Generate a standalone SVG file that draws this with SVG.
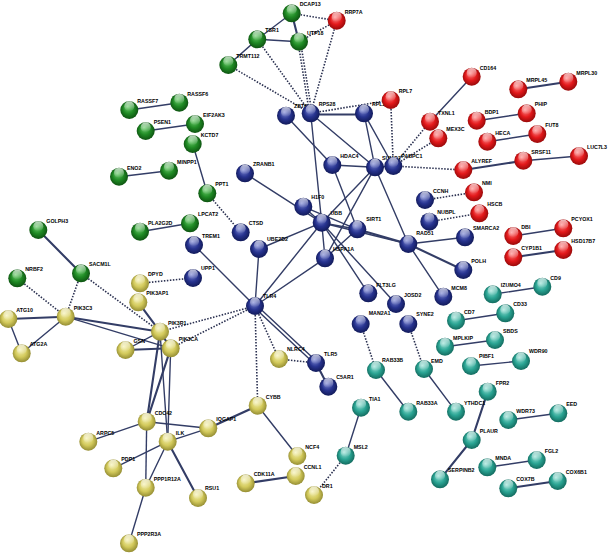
<svg xmlns="http://www.w3.org/2000/svg" width="610" height="555" viewBox="0 0 610 555">
<defs>
<radialGradient id="gG" cx="0.5" cy="0.5" r="0.55" fx="0.4" fy="0.3"><stop offset="0" stop-color="#6fcf6f"/><stop offset="0.55" stop-color="#1f8a24"/><stop offset="1" stop-color="#0b4a0e"/></radialGradient>
<radialGradient id="gB" cx="0.5" cy="0.5" r="0.55" fx="0.4" fy="0.3"><stop offset="0" stop-color="#7f8ad6"/><stop offset="0.55" stop-color="#27338f"/><stop offset="1" stop-color="#0e1650"/></radialGradient>
<radialGradient id="gR" cx="0.5" cy="0.5" r="0.55" fx="0.4" fy="0.3"><stop offset="0" stop-color="#ff8c8c"/><stop offset="0.55" stop-color="#e3191b"/><stop offset="1" stop-color="#8c0707"/></radialGradient>
<radialGradient id="gY" cx="0.5" cy="0.5" r="0.55" fx="0.4" fy="0.3"><stop offset="0" stop-color="#f6f2b4"/><stop offset="0.55" stop-color="#d3ca5c"/><stop offset="1" stop-color="#8a832c"/></radialGradient>
<radialGradient id="gT" cx="0.5" cy="0.5" r="0.55" fx="0.4" fy="0.3"><stop offset="0" stop-color="#9de3d8"/><stop offset="0.55" stop-color="#2aa493"/><stop offset="1" stop-color="#0f6156"/></radialGradient>
<linearGradient id="gl" x1="0" y1="0" x2="0" y2="1"><stop offset="0" stop-color="#fff" stop-opacity="0.75"/><stop offset="1" stop-color="#fff" stop-opacity="0"/></linearGradient>
</defs>
<style>
.e{stroke:#333d66;stroke-width:1.4;fill:none;stroke-linecap:round}
.w{stroke-width:2.1}
.d{stroke:#2a3050;stroke-width:1.6;stroke-dasharray:1.5 1.5;fill:none}
.n circle{stroke:none}
.G circle.b{fill:url(#gG)}
.B circle.b{fill:url(#gB)}
.R circle.b{fill:url(#gR)}
.Y circle.b{fill:url(#gY)}
.T circle.b{fill:url(#gT)}
circle.h{fill:url(#gl)}
text{font-family:"Liberation Sans",Arial,sans-serif;font-size:5.3px;font-weight:bold;fill:#000}
</style>
<g id="connectors">
<line class="d" x1="291.7" y1="13.3" x2="336.7" y2="20.7"/>
<line class="e" x1="291.7" y1="13.3" x2="257.3" y2="39.3"/>
<line class="e w" x1="291.7" y1="13.3" x2="299" y2="41.7"/>
<line class="e" x1="257.3" y1="39.3" x2="299" y2="41.7"/>
<line class="e" x1="257.3" y1="39.3" x2="228.3" y2="65"/>
<line class="d" x1="299" y1="41.7" x2="336.7" y2="20.7"/>
<line class="d" x1="336.7" y1="20.7" x2="310.7" y2="113.3"/>
<line class="d" x1="298" y1="41.7" x2="309.5" y2="113.3"/>
<line class="d" x1="300.5" y1="41.7" x2="312" y2="113.3"/>
<line class="d" x1="257.3" y1="39.3" x2="310.7" y2="113.3"/>
<line class="d" x1="228.3" y1="65" x2="310.7" y2="113.3"/>
<line class="d" x1="310.7" y1="113.3" x2="390.7" y2="100"/>
<line class="e w" x1="310.7" y1="114.5" x2="364" y2="114.5"/>
<line class="d" x1="390.7" y1="100" x2="393.3" y2="166"/>
<line class="e" x1="364" y1="113.3" x2="375" y2="167.3"/>
<line class="e" x1="364" y1="113.3" x2="393.3" y2="166"/>
<line class="e" x1="310.7" y1="113.3" x2="375" y2="167.3"/>
<line class="e" x1="286" y1="115.7" x2="332.3" y2="165"/>
<line class="e" x1="310.7" y1="113.3" x2="321.7" y2="222.7"/>
<line class="e" x1="332.3" y1="165" x2="375" y2="167.3"/>
<line class="e" x1="332.3" y1="165" x2="357.3" y2="229.3"/>
<line class="e" x1="375" y1="167.3" x2="393.3" y2="166"/>
<line class="e" x1="375" y1="167.3" x2="321.7" y2="222.7"/>
<line class="e" x1="375" y1="167.3" x2="325" y2="258.3"/>
<line class="e" x1="375" y1="167.3" x2="408.3" y2="244"/>
<line class="d" x1="393.3" y1="166" x2="430" y2="121.7"/>
<line class="d" x1="393.3" y1="166" x2="438.3" y2="138.3"/>
<line class="d" x1="393.3" y1="166" x2="463.3" y2="170"/>
<line class="e" x1="430" y1="121.7" x2="471.7" y2="76.7"/>
<line class="e w" x1="518.3" y1="89.3" x2="568.3" y2="81.7"/>
<line class="e" x1="476.7" y1="120.7" x2="526.7" y2="113.3"/>
<line class="e" x1="487.3" y1="141.7" x2="537.3" y2="134"/>
<line class="e w" x1="463.3" y1="170" x2="523.3" y2="160.7"/>
<line class="e" x1="523.3" y1="160.7" x2="579" y2="156"/>
<line class="d" x1="425" y1="200" x2="474" y2="192.3"/>
<line class="d" x1="429.3" y1="221.7" x2="479.3" y2="213.3"/>
<line class="e" x1="513.3" y1="236" x2="563.3" y2="228.3"/>
<line class="e w" x1="513.3" y1="257.3" x2="563.3" y2="250"/>
<line class="e" x1="245" y1="173.3" x2="321.7" y2="222.7"/>
<line class="e" x1="303.3" y1="206.7" x2="321.7" y2="222.7"/>
<line class="e" x1="303.3" y1="206.7" x2="357.3" y2="229.3"/>
<line class="e" x1="321.7" y1="222.7" x2="357.3" y2="229.3"/>
<line class="e" x1="321.7" y1="222.7" x2="325" y2="258.3"/>
<line class="e" x1="321.7" y1="222.7" x2="408.3" y2="244"/>
<line class="e w" x1="357.3" y1="229.3" x2="408.3" y2="244"/>
<line class="e" x1="325" y1="258.3" x2="357.3" y2="229.3"/>
<line class="e" x1="321.7" y1="222.7" x2="368.3" y2="293.3"/>
<line class="e" x1="321.7" y1="222.7" x2="396" y2="304"/>
<line class="e" x1="321.7" y1="222.7" x2="259" y2="249"/>
<line class="e" x1="321.7" y1="222.7" x2="255" y2="306"/>
<line class="e" x1="325" y1="258.3" x2="255" y2="306"/>
<line class="e" x1="259" y1="249" x2="255" y2="306"/>
<line class="e" x1="194" y1="245" x2="255" y2="306"/>
<line class="e" x1="408.3" y1="244" x2="465" y2="237.3"/>
<line class="e w" x1="408.3" y1="244" x2="463.3" y2="270"/>
<line class="e" x1="408.3" y1="244" x2="443.3" y2="296.7"/>
<line class="d" x1="360.7" y1="324" x2="376" y2="370"/>
<line class="d" x1="408.3" y1="324" x2="424" y2="369"/>
<line class="e" x1="424" y1="369" x2="456" y2="411.7"/>
<line class="e" x1="376" y1="370" x2="408.3" y2="411.7"/>
<line class="e w" x1="487.7" y1="391.7" x2="471.7" y2="440"/>
<line class="e w" x1="471.7" y1="440" x2="440" y2="479.3"/>
<line class="e" x1="508.3" y1="420" x2="558.3" y2="413.3"/>
<line class="e" x1="487.3" y1="467.3" x2="536.7" y2="460"/>
<line class="e w" x1="508.3" y1="488.3" x2="557.7" y2="481"/>
<line class="e" x1="492.7" y1="294.3" x2="542.3" y2="286.7"/>
<line class="e" x1="456" y1="320.7" x2="505.3" y2="313.3"/>
<line class="e" x1="445" y1="346.7" x2="495" y2="340"/>
<line class="e" x1="471" y1="366" x2="521" y2="361"/>
<line class="e" x1="361" y1="407.7" x2="345.7" y2="455.7"/>
<line class="d" x1="345.7" y1="455.7" x2="314" y2="495"/>
<line class="e w" x1="245.7" y1="483.3" x2="295.7" y2="476"/>
<line class="e" x1="257.7" y1="405.7" x2="297.3" y2="456"/>
<line class="e w" x1="257.7" y1="405.7" x2="208.3" y2="428.3"/>
<line class="d" x1="255" y1="306" x2="257.7" y2="405.7"/>
<line class="d" x1="255" y1="306" x2="279" y2="359"/>
<line class="d" x1="279" y1="359" x2="316" y2="363"/>
<line class="e" x1="256" y1="304.8" x2="317" y2="361.8"/>
<line class="e" x1="254" y1="307.2" x2="315" y2="364.2"/>
<line class="e w" x1="316" y1="363" x2="328.3" y2="386.7"/>
<line class="d" x1="255" y1="306" x2="160" y2="331.7"/>
<line class="d" x1="255" y1="306" x2="170.7" y2="348.3"/>
<line class="d" x1="140" y1="283.3" x2="193" y2="278"/>
<line class="e w" x1="138.3" y1="302.3" x2="160" y2="331.7"/>
<line class="d" x1="81" y1="273.3" x2="65.7" y2="316.7"/>
<line class="d" x1="81" y1="273.3" x2="160" y2="331.7"/>
<line class="e w" x1="38.3" y1="230" x2="81" y2="273.3"/>
<line class="d" x1="17.3" y1="278.3" x2="65.7" y2="316.7"/>
<line class="e w" x1="8.3" y1="319" x2="65.7" y2="316.7"/>
<line class="e" x1="8.3" y1="319" x2="21.7" y2="353.3"/>
<line class="e" x1="21.7" y1="353.3" x2="65.7" y2="316.7"/>
<line class="e w" x1="65.7" y1="316.7" x2="160" y2="331.7"/>
<line class="e" x1="65.7" y1="316.7" x2="170.7" y2="348.3"/>
<line class="e" x1="125.5" y1="350" x2="160" y2="331.7"/>
<line class="e w" x1="125.5" y1="350" x2="170.7" y2="348.3"/>
<line class="e w" x1="160" y1="331.7" x2="170.7" y2="348.3"/>
<line class="e w" x1="160" y1="331.7" x2="146.7" y2="421.7"/>
<line class="e w" x1="170.7" y1="348.3" x2="146.7" y2="421.7"/>
<line class="e" x1="160" y1="331.7" x2="167.7" y2="441.7"/>
<line class="e" x1="170.7" y1="348.3" x2="167.7" y2="441.7"/>
<line class="e" x1="146.7" y1="421.7" x2="88.3" y2="441.7"/>
<line class="e" x1="146.7" y1="421.7" x2="208.3" y2="428.3"/>
<line class="e" x1="146.7" y1="421.7" x2="145.7" y2="487.7"/>
<line class="e" x1="167.7" y1="441.7" x2="208.3" y2="428.3"/>
<line class="e" x1="167.7" y1="441.7" x2="113.3" y2="468.3"/>
<line class="e" x1="167.7" y1="441.7" x2="145.7" y2="487.7"/>
<line class="e w" x1="167.7" y1="441.7" x2="198" y2="498"/>
<line class="e" x1="145.7" y1="487.7" x2="129" y2="543.3"/>
<line class="d" x1="207.3" y1="193.3" x2="240.7" y2="232.3"/>
<line class="e" x1="192.7" y1="144" x2="207.3" y2="193.3"/>
<line class="e" x1="140" y1="231.7" x2="190" y2="223.3"/>
<line class="e" x1="129.3" y1="110" x2="179.3" y2="102.7"/>
<line class="e" x1="145.7" y1="131" x2="195" y2="124"/>
<line class="e" x1="119" y1="176.7" x2="169" y2="170.7"/>
</g>
<g id="n-DCAP13" class="n G"><circle class="b" cx="291.7" cy="13.3" r="9"/><circle class="h" cx="291.7" cy="9.5" r="5"/><text x="299.7" y="6.3">DCAP13</text></g>
<g id="n-TSR1" class="n G"><circle class="b" cx="257.3" cy="39.3" r="9"/><circle class="h" cx="257.3" cy="35.5" r="5"/><text x="265.3" y="32.3">TSR1</text></g>
<g id="n-UTP18" class="n G"><circle class="b" cx="299" cy="41.7" r="9"/><circle class="h" cx="299" cy="37.9" r="5"/><text x="307" y="34.7">UTP18</text></g>
<g id="n-TRMT112" class="n G"><circle class="b" cx="228.3" cy="65" r="9"/><circle class="h" cx="228.3" cy="61.2" r="5"/><text x="236.3" y="58">TRMT112</text></g>
<g id="n-RASSF7" class="n G"><circle class="b" cx="129.3" cy="110" r="9"/><circle class="h" cx="129.3" cy="106.2" r="5"/><text x="137.3" y="103">RASSF7</text></g>
<g id="n-RASSF6" class="n G"><circle class="b" cx="179.3" cy="102.7" r="9"/><circle class="h" cx="179.3" cy="98.9" r="5"/><text x="187.3" y="95.7">RASSF6</text></g>
<g id="n-PSEN1" class="n G"><circle class="b" cx="145.7" cy="131" r="9"/><circle class="h" cx="145.7" cy="127.2" r="5"/><text x="153.7" y="124">PSEN1</text></g>
<g id="n-EIF2AK3" class="n G"><circle class="b" cx="195" cy="124" r="9"/><circle class="h" cx="195" cy="120.2" r="5"/><text x="203" y="117">EIF2AK3</text></g>
<g id="n-KCTD7" class="n G"><circle class="b" cx="192.7" cy="144" r="9"/><circle class="h" cx="192.7" cy="140.2" r="5"/><text x="200.7" y="137">KCTD7</text></g>
<g id="n-ENO2" class="n G"><circle class="b" cx="119" cy="176.7" r="9"/><circle class="h" cx="119" cy="172.9" r="5"/><text x="127" y="169.7">ENO2</text></g>
<g id="n-MINPP1" class="n G"><circle class="b" cx="169" cy="170.7" r="9"/><circle class="h" cx="169" cy="166.9" r="5"/><text x="177" y="163.7">MINPP1</text></g>
<g id="n-PPT1" class="n G"><circle class="b" cx="207.3" cy="193.3" r="9"/><circle class="h" cx="207.3" cy="189.5" r="5"/><text x="215.3" y="186.3">PPT1</text></g>
<g id="n-LPCAT2" class="n G"><circle class="b" cx="190" cy="223.3" r="9"/><circle class="h" cx="190" cy="219.5" r="5"/><text x="198" y="216.3">LPCAT2</text></g>
<g id="n-PLA2G2D" class="n G"><circle class="b" cx="140" cy="231.7" r="9"/><circle class="h" cx="140" cy="227.9" r="5"/><text x="148" y="224.7">PLA2G2D</text></g>
<g id="n-GOLPH3" class="n G"><circle class="b" cx="38.3" cy="230" r="9"/><circle class="h" cx="38.3" cy="226.2" r="5"/><text x="46.3" y="223">GOLPH3</text></g>
<g id="n-SACM1L" class="n G"><circle class="b" cx="81" cy="273.3" r="9"/><circle class="h" cx="81" cy="269.5" r="5"/><text x="89" y="266.3">SACM1L</text></g>
<g id="n-NRBF2" class="n G"><circle class="b" cx="17.3" cy="278.3" r="9"/><circle class="h" cx="17.3" cy="274.5" r="5"/><text x="25.3" y="271.3">NRBF2</text></g>
<g id="n-RRP7A" class="n R"><circle class="b" cx="336.7" cy="20.7" r="9"/><circle class="h" cx="336.7" cy="16.9" r="5"/><text x="344.7" y="13.7">RRP7A</text></g>
<g id="n-CD164" class="n R"><circle class="b" cx="471.7" cy="76.7" r="9"/><circle class="h" cx="471.7" cy="72.9" r="5"/><text x="479.7" y="69.7">CD164</text></g>
<g id="n-MRPL45" class="n R"><circle class="b" cx="518.3" cy="89.3" r="9"/><circle class="h" cx="518.3" cy="85.5" r="5"/><text x="526.3" y="82.3">MRPL45</text></g>
<g id="n-MRPL30" class="n R"><circle class="b" cx="568.3" cy="81.7" r="9"/><circle class="h" cx="568.3" cy="77.9" r="5"/><text x="576.3" y="74.7">MRPL30</text></g>
<g id="n-TXNL1" class="n R"><circle class="b" cx="430" cy="121.7" r="9"/><circle class="h" cx="430" cy="117.9" r="5"/><text x="438" y="114.7">TXNL1</text></g>
<g id="n-MEX3C" class="n R"><circle class="b" cx="438.3" cy="138.3" r="9"/><circle class="h" cx="438.3" cy="134.5" r="5"/><text x="446.3" y="131.3">MEX3C</text></g>
<g id="n-BDP1" class="n R"><circle class="b" cx="476.7" cy="120.7" r="9"/><circle class="h" cx="476.7" cy="116.9" r="5"/><text x="484.7" y="113.7">BDP1</text></g>
<g id="n-PHIP" class="n R"><circle class="b" cx="526.7" cy="113.3" r="9"/><circle class="h" cx="526.7" cy="109.5" r="5"/><text x="534.7" y="106.3">PHIP</text></g>
<g id="n-HECA" class="n R"><circle class="b" cx="487.3" cy="141.7" r="9"/><circle class="h" cx="487.3" cy="137.9" r="5"/><text x="495.3" y="134.7">HECA</text></g>
<g id="n-FUT8" class="n R"><circle class="b" cx="537.3" cy="134" r="9"/><circle class="h" cx="537.3" cy="130.2" r="5"/><text x="545.3" y="127">FUT8</text></g>
<g id="n-ALYREF" class="n R"><circle class="b" cx="463.3" cy="170" r="9"/><circle class="h" cx="463.3" cy="166.2" r="5"/><text x="471.3" y="163">ALYREF</text></g>
<g id="n-SRSF11" class="n R"><circle class="b" cx="523.3" cy="160.7" r="9"/><circle class="h" cx="523.3" cy="156.9" r="5"/><text x="531.3" y="153.7">SRSF11</text></g>
<g id="n-LUC7L3" class="n R"><circle class="b" cx="579" cy="156" r="9"/><circle class="h" cx="579" cy="152.2" r="5"/><text x="587" y="149">LUC7L3</text></g>
<g id="n-NMI" class="n R"><circle class="b" cx="474" cy="192.3" r="9"/><circle class="h" cx="474" cy="188.5" r="5"/><text x="482" y="185.3">NMI</text></g>
<g id="n-HSCB" class="n R"><circle class="b" cx="479.3" cy="213.3" r="9"/><circle class="h" cx="479.3" cy="209.5" r="5"/><text x="487.3" y="206.3">HSCB</text></g>
<g id="n-DBI" class="n R"><circle class="b" cx="513.3" cy="236" r="9"/><circle class="h" cx="513.3" cy="232.2" r="5"/><text x="521.3" y="229">DBI</text></g>
<g id="n-PCYOX1" class="n R"><circle class="b" cx="563.3" cy="228.3" r="9"/><circle class="h" cx="563.3" cy="224.5" r="5"/><text x="571.3" y="221.3">PCYOX1</text></g>
<g id="n-CYP1B1" class="n R"><circle class="b" cx="513.3" cy="257.3" r="9"/><circle class="h" cx="513.3" cy="253.5" r="5"/><text x="521.3" y="250.3">CYP1B1</text></g>
<g id="n-HSD17B7" class="n R"><circle class="b" cx="563.3" cy="250" r="9"/><circle class="h" cx="563.3" cy="246.2" r="5"/><text x="571.3" y="243">HSD17B7</text></g>
<g id="n-ZBTB" class="n B"><circle class="b" cx="286" cy="115.7" r="9"/><circle class="h" cx="286" cy="111.9" r="5"/><text x="294" y="108.2">ZBTB</text></g>
<g id="n-RPS28" class="n B"><circle class="b" cx="310.7" cy="113.3" r="9"/><circle class="h" cx="310.7" cy="109.5" r="5"/><text x="318.7" y="106.3">RPS28</text></g>
<g id="n-RPL21" class="n B"><circle class="b" cx="364" cy="113.3" r="9"/><circle class="h" cx="364" cy="109.5" r="5"/><text x="372" y="106.3">RPL21</text></g>
<g id="n-RPL7" class="n R"><circle class="b" cx="390.7" cy="100" r="9"/><circle class="h" cx="390.7" cy="96.2" r="5"/><text x="398.7" y="93">RPL7</text></g>
<g id="n-HDAC4" class="n B"><circle class="b" cx="332.3" cy="165" r="9"/><circle class="h" cx="332.3" cy="161.2" r="5"/><text x="340.3" y="158">HDAC4</text></g>
<g id="n-SUMO2" class="n B"><circle class="b" cx="375" cy="167.3" r="9"/><circle class="h" cx="375" cy="163.5" r="5"/><text x="382" y="159.5">SUMO2</text></g>
<g id="n-PABPC1" class="n B"><circle class="b" cx="393.3" cy="166" r="9"/><circle class="h" cx="393.3" cy="162.2" r="5"/><text x="401.3" y="158">PABPC1</text></g>
<g id="n-ZRANB1" class="n B"><circle class="b" cx="245" cy="173.3" r="9"/><circle class="h" cx="245" cy="169.5" r="5"/><text x="253" y="166.3">ZRANB1</text></g>
<g id="n-H1F0" class="n B"><circle class="b" cx="303.3" cy="206.7" r="9"/><circle class="h" cx="303.3" cy="202.9" r="5"/><text x="311.3" y="198.7">H1F0</text></g>
<g id="n-UBB" class="n B"><circle class="b" cx="321.7" cy="222.7" r="9"/><circle class="h" cx="321.7" cy="218.9" r="5"/><text x="330.5" y="214.7">UBB</text></g>
<g id="n-SIRT1" class="n B"><circle class="b" cx="357.3" cy="229.3" r="9"/><circle class="h" cx="357.3" cy="225.5" r="5"/><text x="366.3" y="221.3">SIRT1</text></g>
<g id="n-HSPA1A" class="n B"><circle class="b" cx="325" cy="258.3" r="9"/><circle class="h" cx="325" cy="254.5" r="5"/><text x="333" y="251">HSPA1A</text></g>
<g id="n-RAD51" class="n B"><circle class="b" cx="408.3" cy="244" r="9"/><circle class="h" cx="408.3" cy="240.2" r="5"/><text x="416.3" y="235">RAD51</text></g>
<g id="n-FLT3LG" class="n B"><circle class="b" cx="368.3" cy="293.3" r="9"/><circle class="h" cx="368.3" cy="289.5" r="5"/><text x="376.3" y="287">FLT3LG</text></g>
<g id="n-JOSD2" class="n B"><circle class="b" cx="396" cy="304" r="9"/><circle class="h" cx="396" cy="300.2" r="5"/><text x="404" y="297">JOSD2</text></g>
<g id="n-MCM8" class="n B"><circle class="b" cx="443.3" cy="296.7" r="9"/><circle class="h" cx="443.3" cy="292.9" r="5"/><text x="451.3" y="289.5">MCM8</text></g>
<g id="n-POLH" class="n B"><circle class="b" cx="463.3" cy="270" r="9"/><circle class="h" cx="463.3" cy="266.2" r="5"/><text x="471.3" y="263">POLH</text></g>
<g id="n-SMARCA2" class="n B"><circle class="b" cx="465" cy="237.3" r="9"/><circle class="h" cx="465" cy="233.5" r="5"/><text x="473" y="230">SMARCA2</text></g>
<g id="n-CCNH" class="n B"><circle class="b" cx="425" cy="200" r="9"/><circle class="h" cx="425" cy="196.2" r="5"/><text x="433" y="192.5">CCNH</text></g>
<g id="n-NUBPL" class="n B"><circle class="b" cx="429.3" cy="221.7" r="9"/><circle class="h" cx="429.3" cy="217.9" r="5"/><text x="437.3" y="213.7">NUBPL</text></g>
<g id="n-SYNE2" class="n B"><circle class="b" cx="408.3" cy="324" r="9"/><circle class="h" cx="408.3" cy="320.2" r="5"/><text x="416.3" y="316.3">SYNE2</text></g>
<g id="n-MAN2A1" class="n B"><circle class="b" cx="360.7" cy="324" r="9"/><circle class="h" cx="360.7" cy="320.2" r="5"/><text x="368.7" y="315.3">MAN2A1</text></g>
<g id="n-CTSD" class="n B"><circle class="b" cx="240.7" cy="232.3" r="9"/><circle class="h" cx="240.7" cy="228.5" r="5"/><text x="248.7" y="224.7">CTSD</text></g>
<g id="n-UBE2D2" class="n B"><circle class="b" cx="259" cy="249" r="9"/><circle class="h" cx="259" cy="245.2" r="5"/><text x="267" y="241.3">UBE2D2</text></g>
<g id="n-TREM1" class="n B"><circle class="b" cx="194" cy="245" r="9"/><circle class="h" cx="194" cy="241.2" r="5"/><text x="202" y="238">TREM1</text></g>
<g id="n-UPP1" class="n B"><circle class="b" cx="193" cy="278" r="9"/><circle class="h" cx="193" cy="274.2" r="5"/><text x="201" y="269.5">UPP1</text></g>
<g id="n-TLR4" class="n B"><circle class="b" cx="255" cy="306" r="9"/><circle class="h" cx="255" cy="302.2" r="5"/><text x="263" y="298">TLR4</text></g>
<g id="n-TLR5" class="n B"><circle class="b" cx="316" cy="363" r="9"/><circle class="h" cx="316" cy="359.2" r="5"/><text x="324" y="356">TLR5</text></g>
<g id="n-C5AR1" class="n B"><circle class="b" cx="328.3" cy="386.7" r="9"/><circle class="h" cx="328.3" cy="382.9" r="5"/><text x="336.3" y="379">C5AR1</text></g>
<g id="n-DPYD" class="n Y"><circle class="b" cx="140" cy="283.3" r="9"/><circle class="h" cx="140" cy="279.5" r="5"/><text x="148" y="276.3">DPYD</text></g>
<g id="n-PIK3AP1" class="n Y"><circle class="b" cx="138.3" cy="302.3" r="9"/><circle class="h" cx="138.3" cy="298.5" r="5"/><text x="146.3" y="295.3">PIK3AP1</text></g>
<g id="n-PIK3C3" class="n Y"><circle class="b" cx="65.7" cy="316.7" r="9"/><circle class="h" cx="65.7" cy="312.9" r="5"/><text x="73.7" y="309.7">PIK3C3</text></g>
<g id="n-ATG10" class="n Y"><circle class="b" cx="8.3" cy="319" r="9"/><circle class="h" cx="8.3" cy="315.2" r="5"/><text x="16.3" y="312">ATG10</text></g>
<g id="n-ATG2A" class="n Y"><circle class="b" cx="21.7" cy="353.3" r="9"/><circle class="h" cx="21.7" cy="349.5" r="5"/><text x="29.7" y="346.3">ATG2A</text></g>
<g id="n-PIK3R1" class="n Y"><circle class="b" cx="160" cy="331.7" r="9"/><circle class="h" cx="160" cy="327.9" r="5"/><text x="168" y="324.7">PIK3R1</text></g>
<g id="n-GSN" class="n Y"><circle class="b" cx="125.5" cy="350" r="9"/><circle class="h" cx="125.5" cy="346.2" r="5"/><text x="133.5" y="342.5">GSN</text></g>
<g id="n-PIK3CA" class="n Y"><circle class="b" cx="170.7" cy="348.3" r="9"/><circle class="h" cx="170.7" cy="344.5" r="5"/><text x="178.7" y="341.3">PIK3CA</text></g>
<g id="n-CDC42" class="n Y"><circle class="b" cx="146.7" cy="421.7" r="9"/><circle class="h" cx="146.7" cy="417.9" r="5"/><text x="154.7" y="414.7">CDC42</text></g>
<g id="n-ILK" class="n Y"><circle class="b" cx="167.7" cy="441.7" r="9"/><circle class="h" cx="167.7" cy="437.9" r="5"/><text x="175.7" y="434.7">ILK</text></g>
<g id="n-ARPC5" class="n Y"><circle class="b" cx="88.3" cy="441.7" r="9"/><circle class="h" cx="88.3" cy="437.9" r="5"/><text x="96.3" y="434.7">ARPC5</text></g>
<g id="n-PDP1" class="n Y"><circle class="b" cx="113.3" cy="468.3" r="9"/><circle class="h" cx="113.3" cy="464.5" r="5"/><text x="121.3" y="461.3">PDP1</text></g>
<g id="n-PPP1R12A" class="n Y"><circle class="b" cx="145.7" cy="487.7" r="9"/><circle class="h" cx="145.7" cy="483.9" r="5"/><text x="153.7" y="480.7">PPP1R12A</text></g>
<g id="n-RSU1" class="n Y"><circle class="b" cx="198" cy="498" r="9"/><circle class="h" cx="198" cy="494.2" r="5"/><text x="205" y="490">RSU1</text></g>
<g id="n-PPP2R3A" class="n Y"><circle class="b" cx="129" cy="543.3" r="9"/><circle class="h" cx="129" cy="539.5" r="5"/><text x="137" y="536.3">PPP2R3A</text></g>
<g id="n-IQGAP1" class="n Y"><circle class="b" cx="208.3" cy="428.3" r="9"/><circle class="h" cx="208.3" cy="424.5" r="5"/><text x="216.3" y="420.5">IQGAP1</text></g>
<g id="n-CYBB" class="n Y"><circle class="b" cx="257.7" cy="405.7" r="9"/><circle class="h" cx="257.7" cy="401.9" r="5"/><text x="265.7" y="398.7">CYBB</text></g>
<g id="n-NCF4" class="n Y"><circle class="b" cx="297.3" cy="456" r="9"/><circle class="h" cx="297.3" cy="452.2" r="5"/><text x="305.3" y="449">NCF4</text></g>
<g id="n-CCNL1" class="n Y"><circle class="b" cx="295.7" cy="476" r="9"/><circle class="h" cx="295.7" cy="472.2" r="5"/><text x="303.7" y="469">CCNL1</text></g>
<g id="n-CDK11A" class="n Y"><circle class="b" cx="245.7" cy="483.3" r="9"/><circle class="h" cx="245.7" cy="479.5" r="5"/><text x="253.7" y="476.3">CDK11A</text></g>
<g id="n-DR1" class="n Y"><circle class="b" cx="314" cy="495" r="9"/><circle class="h" cx="314" cy="491.2" r="5"/><text x="322" y="488">DR1</text></g>
<g id="n-NLRC4" class="n Y"><circle class="b" cx="279" cy="359" r="9"/><circle class="h" cx="279" cy="355.2" r="5"/><text x="287" y="351">NLRC4</text></g>
<g id="n-MSL2" class="n T"><circle class="b" cx="345.7" cy="455.7" r="9"/><circle class="h" cx="345.7" cy="451.9" r="5"/><text x="353.7" y="448.7">MSL2</text></g>
<g id="n-TIA1" class="n T"><circle class="b" cx="361" cy="407.7" r="9"/><circle class="h" cx="361" cy="403.9" r="5"/><text x="369" y="400.7">TIA1</text></g>
<g id="n-RAB33B" class="n T"><circle class="b" cx="376" cy="370" r="9"/><circle class="h" cx="376" cy="366.2" r="5"/><text x="382" y="361.5">RAB33B</text></g>
<g id="n-RAB33A" class="n T"><circle class="b" cx="408.3" cy="411.7" r="9"/><circle class="h" cx="408.3" cy="407.9" r="5"/><text x="416.3" y="404.7">RAB33A</text></g>
<g id="n-EMD" class="n T"><circle class="b" cx="424" cy="369" r="9"/><circle class="h" cx="424" cy="365.2" r="5"/><text x="431" y="363">EMD</text></g>
<g id="n-YTHDC1" class="n T"><circle class="b" cx="456" cy="411.7" r="9"/><circle class="h" cx="456" cy="407.9" r="5"/><text x="464" y="404.7">YTHDC1</text></g>
<g id="n-FPR2" class="n T"><circle class="b" cx="487.7" cy="391.7" r="9"/><circle class="h" cx="487.7" cy="387.9" r="5"/><text x="495.7" y="384.7">FPR2</text></g>
<g id="n-PLAUR" class="n T"><circle class="b" cx="471.7" cy="440" r="9"/><circle class="h" cx="471.7" cy="436.2" r="5"/><text x="479.7" y="433">PLAUR</text></g>
<g id="n-SERPINB2" class="n T"><circle class="b" cx="440" cy="479.3" r="9"/><circle class="h" cx="440" cy="475.5" r="5"/><text x="448" y="472.3">SERPINB2</text></g>
<g id="n-WDR73" class="n T"><circle class="b" cx="508.3" cy="420" r="9"/><circle class="h" cx="508.3" cy="416.2" r="5"/><text x="516.3" y="413">WDR73</text></g>
<g id="n-EED" class="n T"><circle class="b" cx="558.3" cy="413.3" r="9"/><circle class="h" cx="558.3" cy="409.5" r="5"/><text x="566.3" y="406.3">EED</text></g>
<g id="n-MNDA" class="n T"><circle class="b" cx="487.3" cy="467.3" r="9"/><circle class="h" cx="487.3" cy="463.5" r="5"/><text x="495.3" y="460.3">MNDA</text></g>
<g id="n-FGL2" class="n T"><circle class="b" cx="536.7" cy="460" r="9"/><circle class="h" cx="536.7" cy="456.2" r="5"/><text x="544.7" y="453">FGL2</text></g>
<g id="n-COX7B" class="n T"><circle class="b" cx="508.3" cy="488.3" r="9"/><circle class="h" cx="508.3" cy="484.5" r="5"/><text x="516.3" y="481.3">COX7B</text></g>
<g id="n-COX6B1" class="n T"><circle class="b" cx="557.7" cy="481" r="9"/><circle class="h" cx="557.7" cy="477.2" r="5"/><text x="565.7" y="474">COX6B1</text></g>
<g id="n-IZUMO4" class="n T"><circle class="b" cx="492.7" cy="294.3" r="9"/><circle class="h" cx="492.7" cy="290.5" r="5"/><text x="500.7" y="287.3">IZUMO4</text></g>
<g id="n-CD9" class="n T"><circle class="b" cx="542.3" cy="286.7" r="9"/><circle class="h" cx="542.3" cy="282.9" r="5"/><text x="550.3" y="279.7">CD9</text></g>
<g id="n-CD7" class="n T"><circle class="b" cx="456" cy="320.7" r="9"/><circle class="h" cx="456" cy="316.9" r="5"/><text x="464" y="313.7">CD7</text></g>
<g id="n-CD33" class="n T"><circle class="b" cx="505.3" cy="313.3" r="9"/><circle class="h" cx="505.3" cy="309.5" r="5"/><text x="513.3" y="306.3">CD33</text></g>
<g id="n-MPLKIP" class="n T"><circle class="b" cx="445" cy="346.7" r="9"/><circle class="h" cx="445" cy="342.9" r="5"/><text x="453" y="339.7">MPLKIP</text></g>
<g id="n-SBDS" class="n T"><circle class="b" cx="495" cy="340" r="9"/><circle class="h" cx="495" cy="336.2" r="5"/><text x="503" y="333">SBDS</text></g>
<g id="n-PIBF1" class="n T"><circle class="b" cx="471" cy="366" r="9"/><circle class="h" cx="471" cy="362.2" r="5"/><text x="479" y="357.5">PIBF1</text></g>
<g id="n-WDR90" class="n T"><circle class="b" cx="521" cy="361" r="9"/><circle class="h" cx="521" cy="357.2" r="5"/><text x="529" y="352.5">WDR90</text></g>
</svg>
